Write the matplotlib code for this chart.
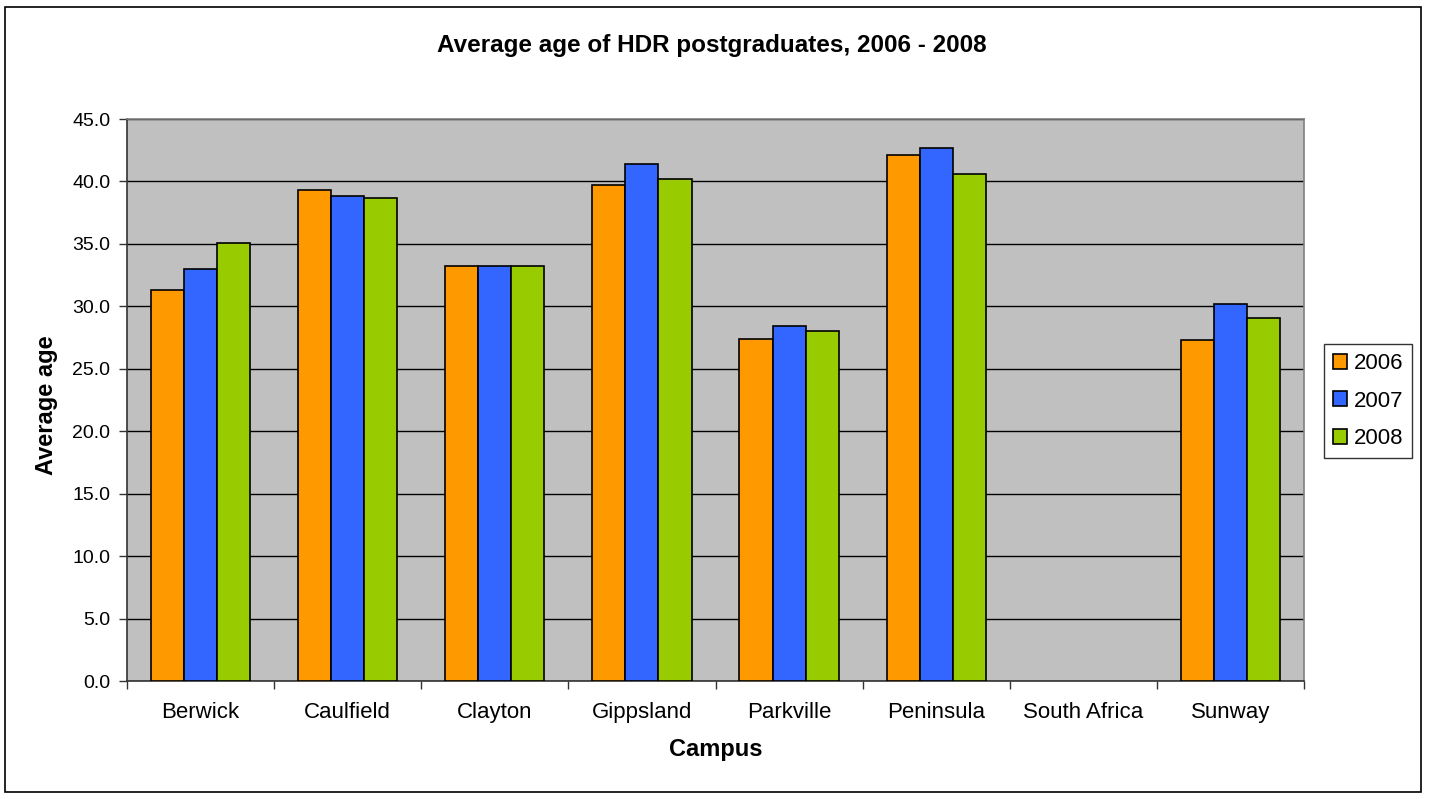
"""
Grouped bar chart: average age of HDR postgraduates by campus, 2006 - 2008.
"""

import numpy as np
import matplotlib
matplotlib.use("Agg")
import matplotlib.pyplot as plt
from matplotlib.patches import Rectangle

campuses = ["Berwick", "Caulfield", "Clayton", "Gippsland", "Parkville",
            "Peninsula", "South Africa", "Sunway"]
years = ["2006", "2007", "2008"]

# South Africa has no data in any year
age_2006 = [31.3, 39.3, 33.2, 39.7, 27.4, 42.1, np.nan, 27.3]
age_2007 = [33.0, 38.8, 33.2, 41.4, 28.4, 42.7, np.nan, 30.2]
age_2008 = [35.1, 38.7, 33.2, 40.2, 28.0, 40.6, np.nan, 29.1]

colors = ["#FF9900", "#3366FF", "#99CC00"]
y_ticks = np.arange(0, 45.1, 5.0)

W, H = 1429, 799
plt.rcParams["font.family"] = ["Liberation Sans", "DejaVu Sans"]
fig = plt.figure(figsize=(W / 100, H / 100), dpi=100)

# outer chart border
fig.patches.append(Rectangle((5 / W, 1 - 792 / H), (1421 - 5) / W, (792 - 7) / H,
                             transform=fig.transFigure, fill=False,
                             edgecolor="black", linewidth=1.2))

left, right, top, bottom = 127, 1304, 119, 681
ax = fig.add_axes([left / W, 1 - bottom / H, (right - left) / W, (bottom - top) / H])
ax.set_facecolor("#C0C0C0")

x = np.arange(len(campuses))
bar_w = 0.225
series = [age_2006, age_2007, age_2008]
for i, (vals, col, yr) in enumerate(zip(series, colors, years)):
    ax.bar(x + (i - 1) * bar_w, vals, width=bar_w, color=col, edgecolor="black",
           linewidth=1.2, label=yr, zorder=3)

ax.set_xlim(-0.5, len(campuses) - 0.5)
ax.set_ylim(0, 45)
ax.set_yticks(y_ticks)
ax.set_yticklabels([f"{v:.1f}" for v in y_ticks], fontsize=14)
ax.yaxis.grid(True, color="black", linewidth=1.0, zorder=1)
ax.set_axisbelow(True)

# category labels centred, ticks on category boundaries
ax.set_xticks(np.arange(-0.5, len(campuses), 1.0))
ax.set_xticklabels([])
ax.set_xticks(x, minor=True)
ax.set_xticklabels(campuses, minor=True, fontsize=16)
ax.tick_params(axis="x", which="minor", length=0, pad=15)
ax.tick_params(axis="x", which="major", direction="out", length=6, width=1, color="#333333")
ax.tick_params(axis="y", direction="out", length=6, width=1, color="#333333", pad=6)

for side in ["top", "right"]:
    ax.spines[side].set_color("#808080")
    ax.spines[side].set_linewidth(1.2)
for side in ["left", "bottom"]:
    ax.spines[side].set_color("#333333")
    ax.spines[side].set_linewidth(1.2)

ax.set_xlabel("Campus", fontsize=17, fontweight="bold", labelpad=11)
ax.set_ylabel("Average age", fontsize=17, fontweight="bold")
ax.yaxis.set_label_coords((58 - left) / (right - left), (bottom - 405) / (bottom - top))

fig.text(712 / W, 1 - 52 / H, "Average age of HDR postgraduates, 2006 - 2008",
         ha="center", va="baseline", fontsize=17.5, fontweight="bold")

leg = ax.legend(loc="upper left",
                bbox_to_anchor=((1324 - left) / (right - left), (bottom - 344) / (bottom - top)),
                frameon=True, fancybox=False, fontsize=16, handlelength=0.65, handleheight=0.65,
                handletextpad=0.3, labelspacing=0.75, borderpad=0.4, borderaxespad=0)
leg.get_frame().set_edgecolor("black")
leg.get_frame().set_linewidth(1.0)

fig.savefig("out.png", dpi=100)
